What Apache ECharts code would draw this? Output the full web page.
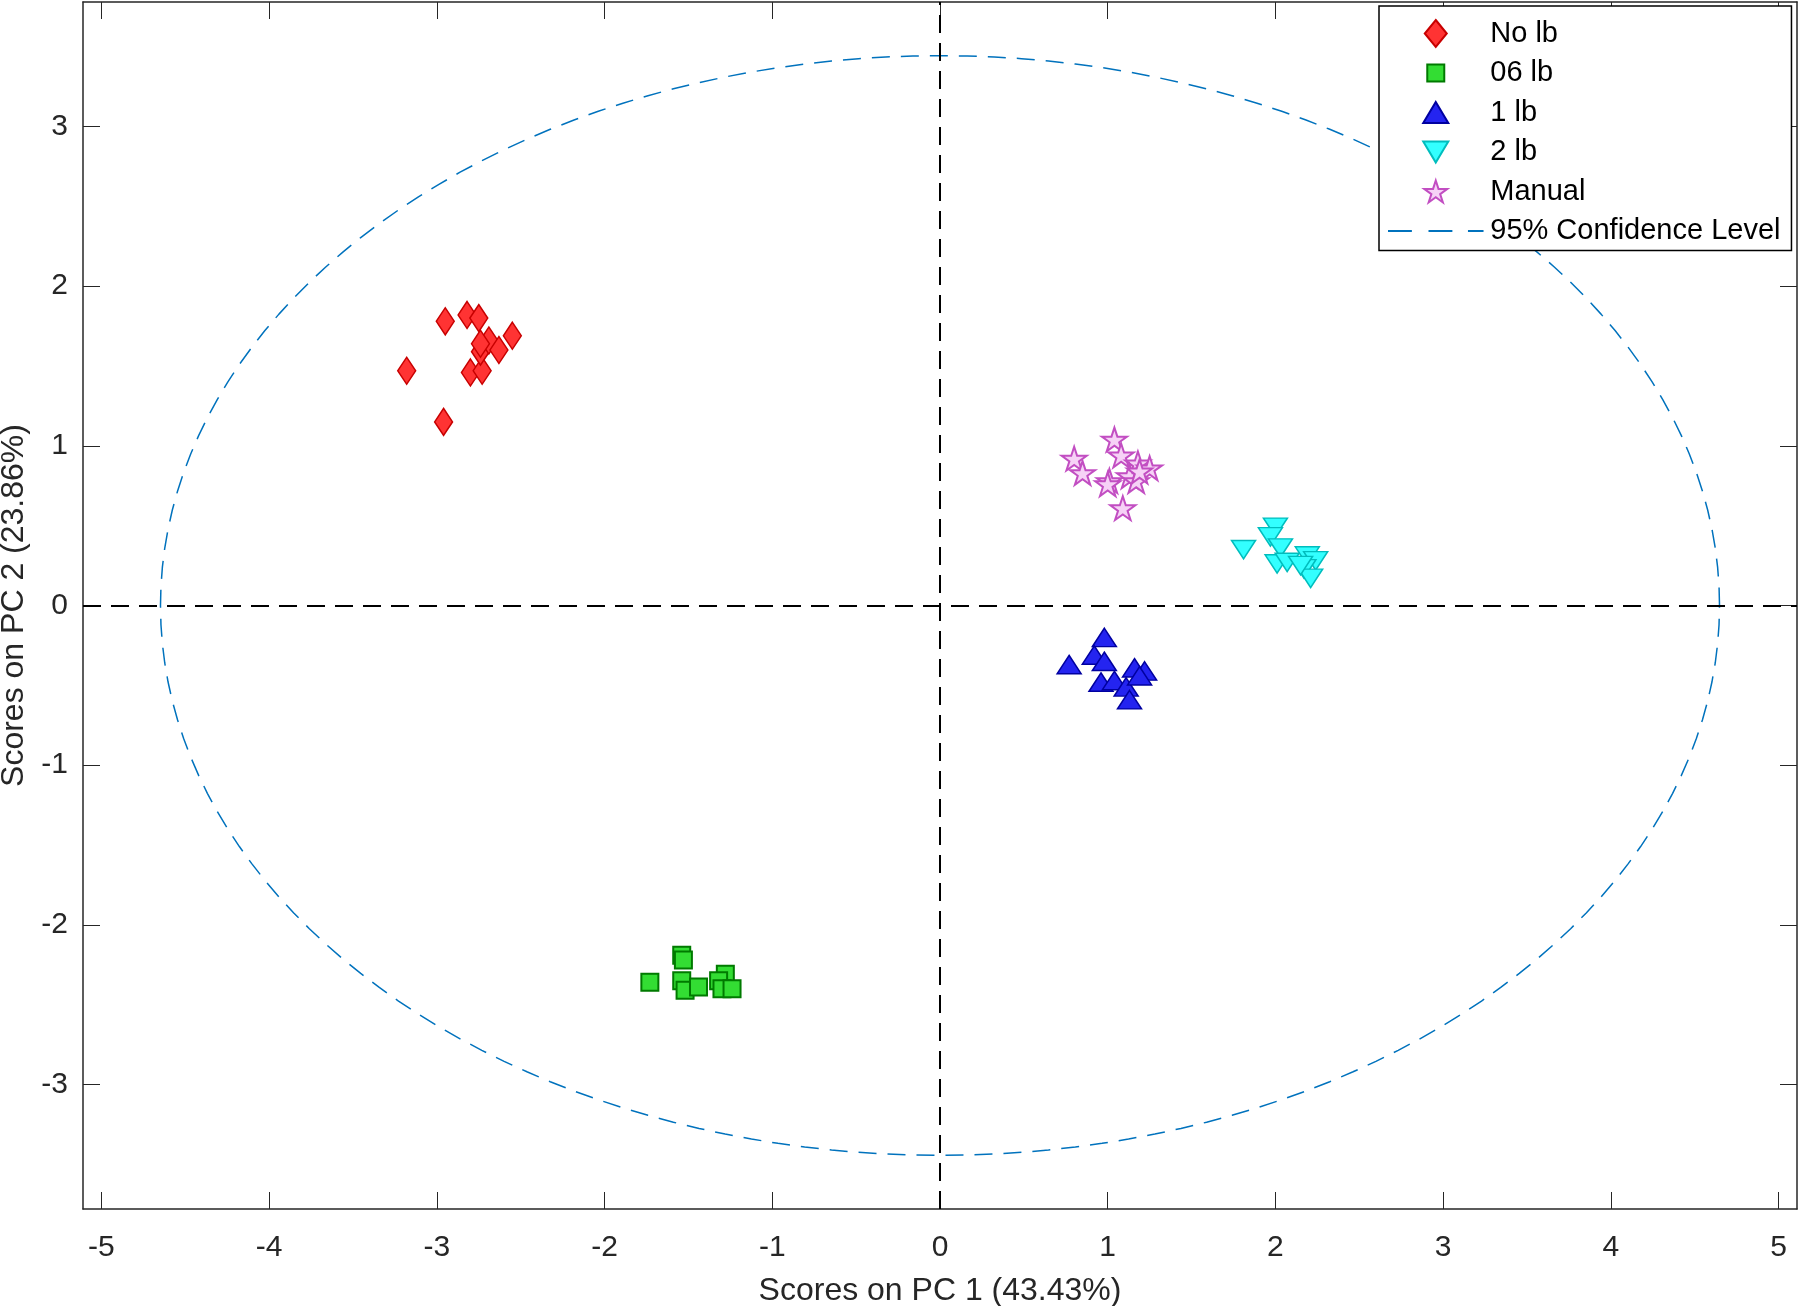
<!DOCTYPE html>
<html><head><meta charset="utf-8">
<script src="https://cdn.jsdelivr.net/npm/echarts@6/dist/echarts.min.js"></script>
<style>html,body{margin:0;padding:0;background:#fff}#c{width:1800px;height:1306px}</style>
</head><body><div id="c"></div>
<script>
const xTicks = [-5, -4, -3, -2, -1, 0, 1, 2, 3, 4, 5];
const yTicks = [-3, -2, -1, 0, 1, 2, 3];
const xRange = [-5.11, 5.11];
const yRange = [-3.78, 3.78];
const xTitle = 'Scores on PC 1 (43.43%)';
const yTitle = 'Scores on PC 2 (23.86%)';
const seriesNames = ['No lb', '06 lb', '1 lb', '2 lb', 'Manual', '95% Confidence Level'];

const noLb = [[-2.95,1.78],[-2.82,1.82],[-2.75,1.80],[-2.55,1.69],[-3.18,1.47],[-2.96,1.15],[-2.80,1.46],[-2.73,1.47],[-2.74,1.59],[-2.69,1.66],[-2.63,1.60],[-2.74,1.64]];
const lb06 = [[-1.54,-2.19],[-1.53,-2.22],[-1.73,-2.36],[-1.54,-2.35],[-1.52,-2.41],[-1.44,-2.39],[-1.28,-2.31],[-1.32,-2.35],[-1.30,-2.40],[-1.24,-2.40]];
const lb1 = [[0.98,-0.20],[0.77,-0.37],[0.92,-0.31],[0.98,-0.35],[0.96,-0.48],[1.04,-0.47],[1.16,-0.39],[1.22,-0.41],[1.11,-0.51],[1.13,-0.59],[1.19,-0.44]];
const lb2 = [[1.81,0.35],[2.00,0.49],[1.97,0.43],[2.03,0.36],[2.01,0.26],[2.07,0.27],[2.19,0.31],[2.24,0.28],[2.17,0.23],[2.21,0.17],[2.15,0.25]];
const manual = [[1.04,1.04],[0.80,0.92],[0.85,0.83],[1.08,0.94],[1.18,0.89],[1.25,0.86],[1.01,0.78],[1.00,0.76],[1.13,0.81],[1.17,0.78],[1.19,0.84],[1.09,0.61]];
// 95% confidence ellipse semi-axes (PC1, PC2), centred at origin
const ellipseAxes = [4.648, 3.444];

const ellipseData = [];
for (let d = 0; d <= 360; d += 2) {
  const t = d * Math.PI / 180;
  ellipseData.push([ellipseAxes[0] * Math.cos(t), ellipseAxes[1] * Math.sin(t)]);
}

const FONT = "'Liberation Sans', Arial, Helvetica, sans-serif";
const AX = '#262626';
// marker shapes
const DIAMOND = 'path://M11 0 L22 13.5 L11 27 L0 13.5 Z';
const SQUARE = 'path://M0 0 L17 0 L17 17 L0 17 Z';
const TRI_UP = 'path://M12 0 L24 21 L0 21 Z';
const TRI_DOWN = 'path://M0 0 L24 0 L12 21 Z';
const STAR = 'path://M50 0 L61.23 34.55 L97.55 34.55 L68.17 55.9 L79.39 90.45 L50 69.1 L20.61 90.45 L31.83 55.9 L2.45 34.55 L38.77 34.55 Z';
// legend icons (same shapes, with invisible padding points so they keep their size in a 27px-high slot)
const LEG_SQUARE = 'path://M8.5 -5 L8.5 -5 M0 0 L17 0 L17 17 L0 17 Z M8.5 22 L8.5 22';
const LEG_TRI_UP = 'path://M12 -3 L12 -3 M12 0 L25 22 L-1 22 Z M12 25 L12 25';
const LEG_TRI_DOWN = 'path://M12 -3 L12 -3 M-1 0 L25 0 L12 22 Z M12 25 L12 25';
const LEG_STAR = 'path://M50 -10.6 L50 -10.6 M50 0 L61.23 34.55 L97.55 34.55 L68.17 55.9 L79.39 90.45 L50 69.1 L20.61 90.45 L31.83 55.9 L2.45 34.55 L38.77 34.55 Z M50 101 L50 101';
const LEG_DASH = 'path://M0 -12 L0 -12 M0 0 L23 0 L23 2 L0 2 Z M39 0 L62 0 L62 2 L39 2 Z M77 0 L92 0 L92 2 L77 2 Z M0 14 L0 14';

function xAxisDef(pos, main) {
  return {
    type: 'value', position: pos, min: xRange[0], max: xRange[1],
    axisLine: { show: true, onZero: false, lineStyle: { color: AX, width: 1.5 } },
    axisTick: { show: true, inside: true, length: 17, customValues: xTicks, lineStyle: { color: AX, width: 1 } },
    axisLabel: { show: main, customValues: xTicks, fontSize: 30, color: AX, margin: 24, fontFamily: FONT },
    splitLine: { show: false },
    name: main ? xTitle : '', nameLocation: 'middle', nameGap: 66,
    nameTextStyle: { fontSize: 32, color: AX, fontFamily: FONT }
  };
}
function yAxisDef(pos, main) {
  return {
    type: 'value', position: pos, min: yRange[0], max: yRange[1],
    axisLine: { show: true, onZero: false, lineStyle: { color: AX, width: 1.5 } },
    axisTick: { show: true, inside: true, length: 17, customValues: yTicks, lineStyle: { color: AX, width: 1 } },
    axisLabel: { show: main, customValues: yTicks, fontSize: 30, color: AX, margin: 15, fontFamily: FONT },
    splitLine: { show: false },
    name: main ? yTitle : '', nameLocation: 'middle', nameGap: 50,
    nameTextStyle: { fontSize: 32, color: AX, fontFamily: FONT }
  };
}

const chart = echarts.init(document.getElementById('c'), null, { renderer: 'canvas' });
chart.setOption({
  animation: false,
  backgroundColor: '#fff',
  grid: { left: 83, right: 3, top: 2, bottom: 97, containLabel: false, outerBoundsMode: 'none' },
  xAxis: [xAxisDef('bottom', true), xAxisDef('top', false)],
  yAxis: [yAxisDef('left', true), yAxisDef('right', false)],
  legend: {
    orient: 'vertical', left: 1379, top: 6, padding: [13, 11, 5, 9],
    itemWidth: 99, itemHeight: 27, itemGap: 10.5,
    symbolKeepAspect: true,
    backgroundColor: '#fff', borderColor: '#000', borderWidth: 1.5, borderRadius: 0,
    selectedMode: false,
    textStyle: { fontSize: 29, color: '#000', fontFamily: FONT },
    data: [
      { name: seriesNames[0], icon: DIAMOND },
      { name: seriesNames[1], icon: LEG_SQUARE },
      { name: seriesNames[2], icon: LEG_TRI_UP },
      { name: seriesNames[3], icon: LEG_TRI_DOWN },
      { name: seriesNames[4], icon: LEG_STAR },
      { name: seriesNames[5], icon: LEG_DASH, itemStyle: { color: '#0072BD', borderWidth: 0 } }
    ]
  },
  series: [
    {
      name: seriesNames[5], type: 'line', data: ellipseData, symbol: 'none', showSymbol: false, smooth: false,
      silent: true, z: 1,
      lineStyle: { color: '#0072BD', width: 1.5, type: [18, 11] },
      itemStyle: { color: '#0072BD' },
      markLine: {
        silent: true, symbol: ['none', 'none'], label: { show: false },
        lineStyle: { color: '#000', width: 2, type: [18, 10] },
        data: [{ xAxis: 0 }, { yAxis: 0 }]
      }
    },
    {
      name: seriesNames[0], type: 'scatter', data: noLb, symbol: DIAMOND, symbolSize: [22, 27], z: 3,
      symbolKeepAspect: true,
      itemStyle: { color: '#FF3333', borderColor: '#C80000', borderWidth: 1.5, opacity: 1 }
    },
    {
      name: seriesNames[1], type: 'scatter', data: lb06, symbol: SQUARE, symbolSize: 17, z: 3,
      symbolKeepAspect: true,
      itemStyle: { color: '#33DD33', borderColor: '#007A00', borderWidth: 2, opacity: 1 }
    },
    {
      name: seriesNames[2], type: 'scatter', data: lb1, symbol: TRI_UP, symbolSize: [24, 21], z: 3,
      symbolKeepAspect: true,
      itemStyle: { color: '#2424F0', borderColor: '#0000A0', borderWidth: 1.5, opacity: 1 }
    },
    {
      name: seriesNames[3], type: 'scatter', data: lb2, symbol: TRI_DOWN, symbolSize: [24, 21], z: 3,
      symbolKeepAspect: true,
      itemStyle: { color: '#33FFFF', borderColor: '#00BDBD', borderWidth: 1.5, opacity: 1 }
    },
    {
      name: seriesNames[4], type: 'scatter', data: manual, symbol: STAR, symbolKeepAspect: true, symbolSize: 25, z: 3,
      itemStyle: { color: '#F6D2F6', borderColor: '#C24EC2', borderWidth: 2, opacity: 1 }
    }
  ]
});
</script>
</body></html>
